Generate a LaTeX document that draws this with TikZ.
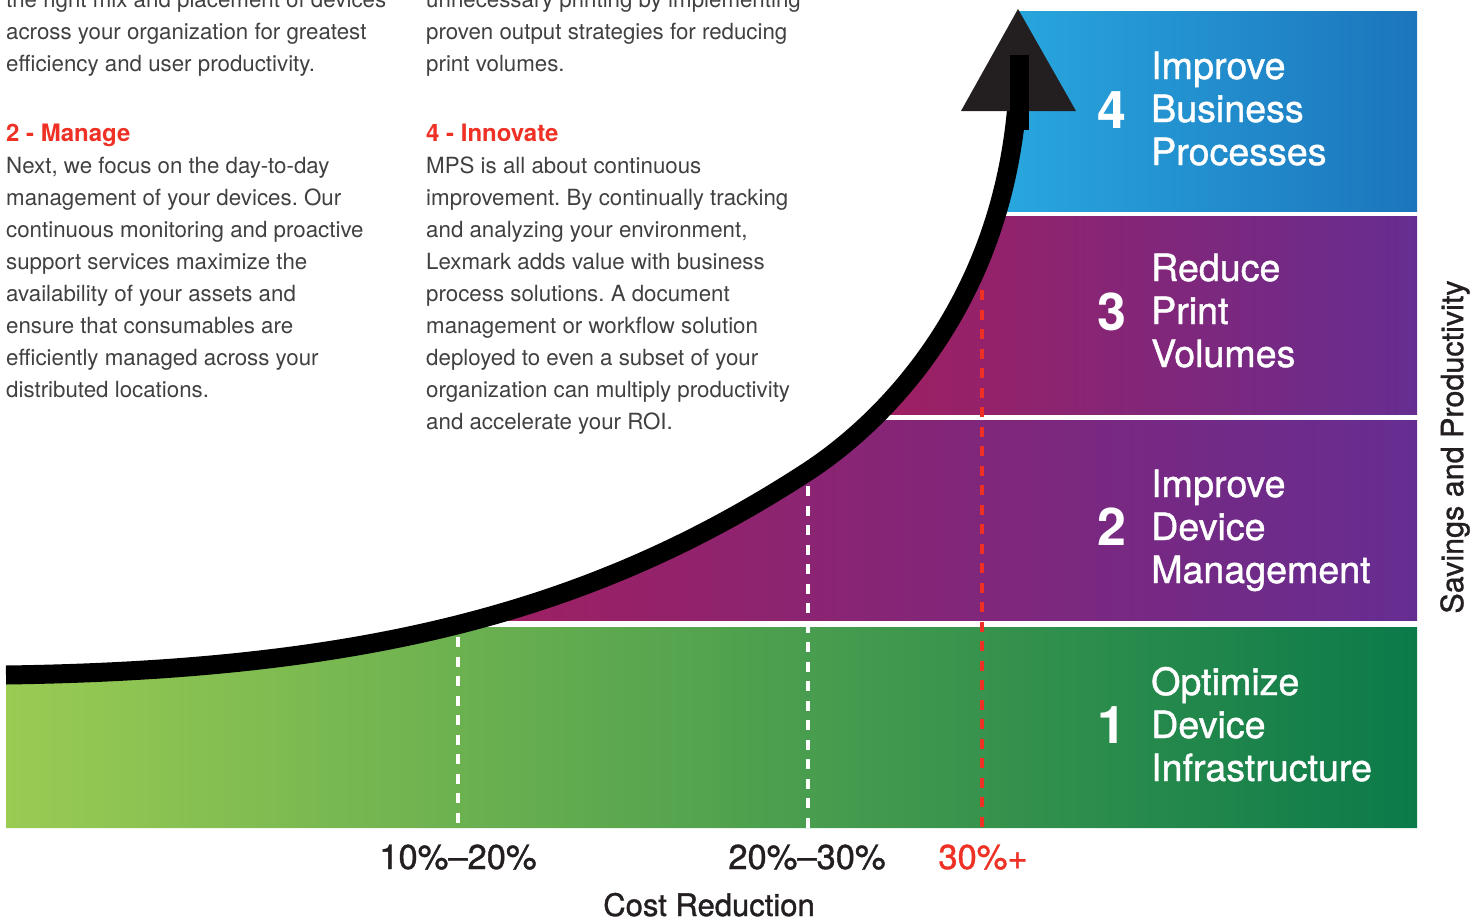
\documentclass[tikz,border=0pt]{standalone}
\usepackage{fontspec}
\setmainfont{TeX Gyre Heros}
\newfontfamily\medfont[FakeBold=1.1]{TeX Gyre Heros}
\frenchspacing
\definecolor{bodygray}{HTML}{404040}
\definecolor{accred}{HTML}{EE3124}
\definecolor{darktxt}{HTML}{231F20}
\definecolor{blueL}{HTML}{29A9E0}
\definecolor{blueR}{HTML}{1C75BC}
\definecolor{magL}{HTML}{A01F60}
\definecolor{purR}{HTML}{662D91}
\definecolor{grnL}{HTML}{9ACB53}
\definecolor{grnR}{HTML}{0B7A4A}
\begin{document}
\begin{tikzpicture}[x=1pt,y=-1pt,
  body/.style={font=\fontsize{22.3}{32}\selectfont, text=bodygray, anchor=base west, inner sep=0pt},
  head/.style={font=\bfseries\fontsize{24}{32}\selectfont, text=accred, anchor=base west, inner sep=0pt},
  lbl/.style={font=\medfont\fontsize{37.6}{43}\selectfont, text=white, anchor=base west, inner sep=0pt},
  num/.style={font=\bfseries\fontsize{52}{52}\selectfont, text=white, anchor=base west, inner sep=0pt},
  axislbl/.style={font=\medfont\fontsize{34.5}{34.5}\selectfont, text=darktxt, anchor=base, inner sep=0pt},
  whitedash/.style={white, line width=4pt, dash pattern=on 10pt off 9.5pt},
  reddash/.style={accred, line width=4.5pt, dash pattern=on 10pt off 9.5pt},
]
\useasboundingbox (0,0) rectangle (1481,921);

% ---------- coloured bands under the curve ----------
\begin{scope}
  \clip (6,675) .. controls (364,670) and (592,612) .. (807,472)
        .. controls (887,420) and (1019,290) .. (1019,55)
        -- (1019,0) -- (1417,0) -- (1417,828) -- (6,828) -- cycle;
  \shade[left color=blueL, right color=blueR] (985,11) rectangle (1417,211);
  \shade[left color=magL, right color=purR] (870,216) rectangle (1417,414);
  \shade[left color=magL, right color=purR] (460,420) rectangle (1417,620);
  \shade[left color=grnL, right color=grnR] (6,627) rectangle (1417,828);
\end{scope}

% ---------- dashed markers ----------
\coordinate (d1t) at (458,637); \coordinate (d1b) at (458,830);
\coordinate (d2t) at (808,486); \coordinate (d2b) at (808,830);
\coordinate (d3t) at (982,290); \coordinate (d3b) at (982,830);
\draw[whitedash] (d1t) -- (d1b);
\draw[whitedash] (d2t) -- (d2b);
\draw[reddash] (d3t) -- (d3b);

% ---------- growth curve and arrow head ----------
\draw[black, line width=19pt] (6,675) .. controls (364,670) and (592,612) .. (807,472)
        .. controls (887,420) and (1019,290) .. (1019,55);
\fill[darktxt] (1018,9) -- (1076,111) -- (961,111) -- cycle;
\draw[black, line width=19pt] (1019,130) -- (1019,55);

% ---------- band labels ----------
\node[num] (n4) at (1097,128) {4};
\node[lbl] (l4a) at (1151,79) {Improve};
\node[lbl] (l4b) at (1151,122) {Business};
\node[lbl] (l4c) at (1151,165) {Processes};

\node[num] (n3) at (1097,330) {3};
\node[lbl] (l3a) at (1151,281) {Reduce};
\node[lbl] (l3b) at (1151,324) {Print};
\node[lbl] (l3c) at (1151,367) {Volumes};

\node[num] (n2) at (1097,545) {2};
\node[lbl] (l2a) at (1151,497) {Improve};
\node[lbl] (l2b) at (1151,540) {Device};
\node[lbl] (l2c) at (1151,583) {Management};

\node[num] (n1) at (1097,743) {1};
\node[lbl] (l1a) at (1151,695) {Optimize};
\node[lbl] (l1b) at (1151,738) {Device};
\node[lbl] (l1c) at (1151,781) {Infrastructure};

% ---------- axis labels ----------
\node[font=\medfont\fontsize{30.5}{30.5}\selectfont, text=darktxt, rotate=90, inner sep=0pt] (yax) at (1455,447) {Savings and Productivity};
\node[axislbl] (x1) at (458,869) {10\%–20\%};
\node[axislbl] (x2) at (807,869) {20\%–30\%};
\node[axislbl, text=accred] (x3) at (983,869) {30\%+};
\node[axislbl, font=\medfont\fontsize{31}{31}\selectfont] (xax) at (709,916) {Cost Reduction};

% ---------- text column 1 ----------
\node[body] (a0) at (6,7) {the right mix and placement of devices};
\node[body] (a1) at (6,39) {across your organization for greatest};
\node[body] (a2) at (6,71) {efficiency and user productivity.};
\node[head] (ah) at (6,141) {2 - Manage};
\foreach \t [count=\i from 0] in {{Next, we focus on the day-to-day},{management of your devices. Our},{continuous monitoring and proactive},{support services maximize the},{availability of your assets and},{ensure that consumables are},{efficiently managed across your},{distributed locations.}}
  \node[body] (b\i) at (6,173+32*\i) {\t};

% ---------- text column 2 ----------
\node[body] (c0) at (426,7) {unnecessary printing by implementing};
\node[body] (c1) at (426,39) {proven output strategies for reducing};
\node[body] (c2) at (426,71) {print volumes.};
\node[head] (ch) at (426,141) {4 - Innovate};
\foreach \t [count=\i from 0] in {{MPS is all about continuous},{improvement. By continually tracking},{and analyzing your environment,},{Lexmark adds value with business},{process solutions. A document},{management or workflow solution},{deployed to even a subset of your},{organization can multiply productivity},{and accelerate your ROI.}}
  \node[body] (d\i) at (426,173+32*\i) {\t};
\end{tikzpicture}
\end{document}
